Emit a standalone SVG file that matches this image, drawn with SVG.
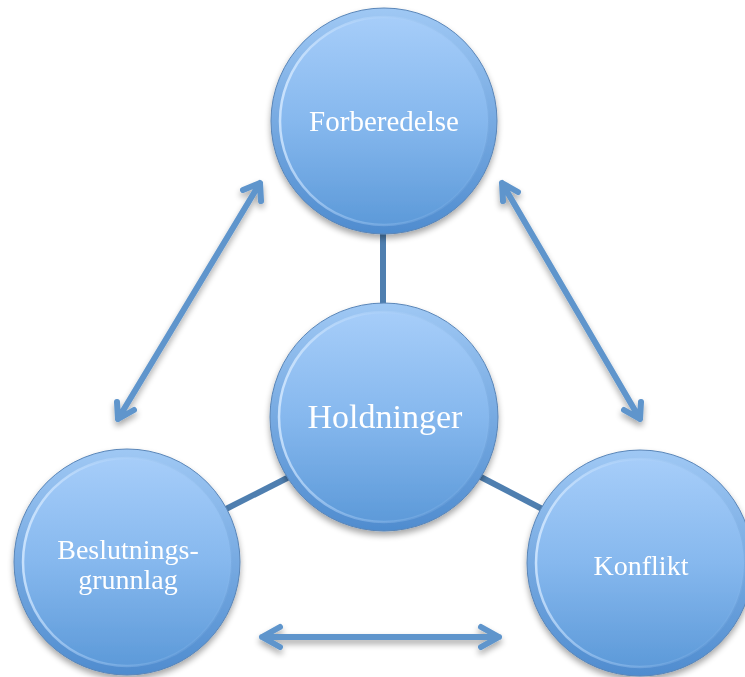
<svg xmlns="http://www.w3.org/2000/svg" width="745" height="677" viewBox="0 0 745 677">
<style>
.rim{fill:url(#rimG);stroke:#5a86b8;stroke-width:1}
.face{fill:url(#faceG);stroke:url(#hiG);stroke-width:2.5}
.lbl{font-family:"Liberation Serif","DejaVu Serif",serif;fill:#ffffff;text-anchor:middle}
.conn{stroke:#4f7fb0;stroke-width:6;fill:none}
.arr{stroke:#5f95cc;stroke-width:6;fill:none;stroke-linecap:round;stroke-linejoin:round}
</style>
<defs>
<linearGradient id="rimG" x1="0" y1="0" x2="0" y2="1">
<stop offset="0" stop-color="#9fc8f4"/>
<stop offset="1" stop-color="#4f8ccf"/>
</linearGradient>
<linearGradient id="faceG" x1="0" y1="0" x2="0" y2="1">
<stop offset="0" stop-color="#a6cdf9"/>
<stop offset="0.5" stop-color="#86b8ee"/>
<stop offset="1" stop-color="#5d9ad9"/>
</linearGradient>
<linearGradient id="hiG" x1="0" y1="0" x2="1" y2="0.2">
<stop offset="0" stop-color="#d6eaff"/>
<stop offset="0.45" stop-color="#b2d4fa" stop-opacity="0.5"/>
<stop offset="1" stop-color="#8fbcec" stop-opacity="0.15"/>
</linearGradient>
<filter id="sh" x="-20%" y="-20%" width="140%" height="150%">
<feGaussianBlur in="SourceAlpha" stdDeviation="3"/>
<feOffset dx="0" dy="4" result="b"/>
<feComponentTransfer><feFuncA type="linear" slope="0.35"/></feComponentTransfer>
<feMerge><feMergeNode/><feMergeNode in="SourceGraphic"/></feMerge>
</filter>
</defs>
<g id="connectors">
<line class="conn" x1="383" y1="225" x2="383" y2="310"/>
<line class="conn" x1="220" y1="512" x2="295" y2="474"/>
<line class="conn" x1="475" y1="474" x2="548" y2="512"/>
<g filter="url(#sh)">
<path class="arr" d="M260,183 L118,419 M243,190 L260,183 L261,201 M117,402 L118,419 L134,410"/>
<path class="arr" d="M502,183 L640,419 M503,201 L502,183 L518,192 M624,410 L640,419 L641,402"/>
<path class="arr" d="M262,637 L499,637 M280,627 L262,637 L280,647 M481,627 L499,637 L481,647"/>
</g>
</g>
<g id="forberedelse" filter="url(#sh)">
<circle class="rim" cx="384" cy="121" r="113"/>
<circle class="face" cx="384" cy="121" r="104"/>
<text class="lbl" x="384" y="131" font-size="29">Forberedelse</text>
</g>
<g id="holdninger" filter="url(#sh)">
<circle class="rim" cx="384" cy="417" r="114"/>
<circle class="face" cx="384" cy="417" r="105"/>
<text class="lbl" x="385" y="428" font-size="34">Holdninger</text>
</g>
<g id="beslutningsgrunnlag" filter="url(#sh)">
<circle class="rim" cx="127" cy="562" r="113"/>
<circle class="face" cx="127" cy="562" r="104"/>
<text class="lbl" x="128" y="559" font-size="28">Beslutnings-</text>
<text class="lbl" x="128" y="589" font-size="28">grunnlag</text>
</g>
<g id="konflikt" filter="url(#sh)">
<circle class="rim" cx="640" cy="563" r="113"/>
<circle class="face" cx="640" cy="563" r="104"/>
<text class="lbl" x="641" y="575" font-size="28">Konflikt</text>
</g>
</svg>
